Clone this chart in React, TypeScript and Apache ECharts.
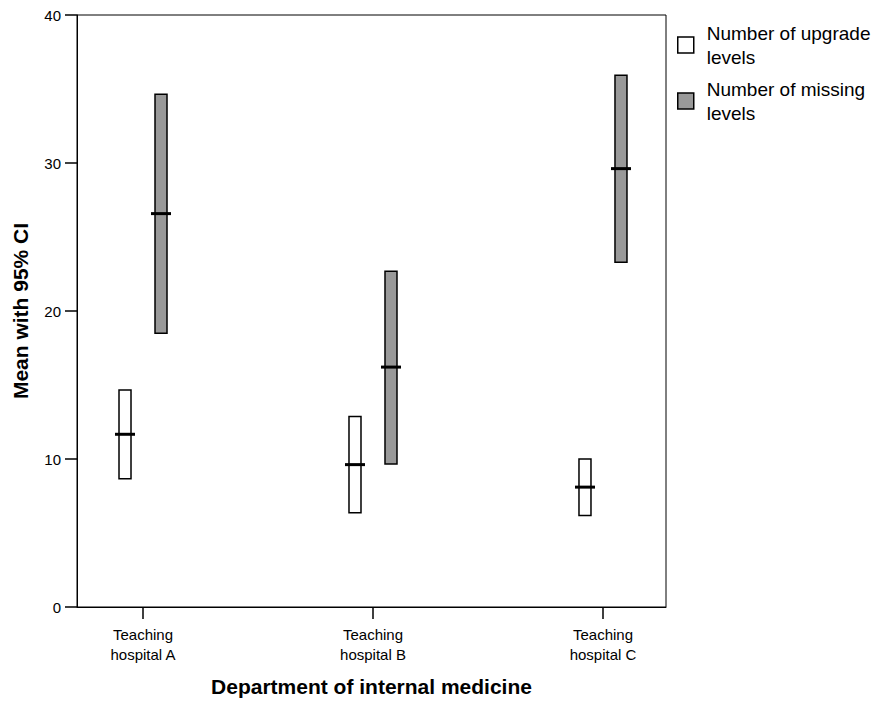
import React, { useEffect, useRef } from "react";
import * as echarts from "echarts";

const categories = ["Teaching\nhospital A", "Teaching\nhospital B", "Teaching\nhospital C"];
const categoryPos = [1, 2, 3];

const upgradeLow = [8.66, 6.37, 6.19];
const upgradeMean = [11.67, 9.62, 8.1];
const upgradeHigh = [14.66, 12.88, 10.0];

const missingLow = [18.5, 9.67, 23.3];
const missingMean = [26.58, 16.21, 29.62];
const missingHigh = [34.65, 22.68, 35.93];

const seriesNames = ["Number of upgrade\nlevels", "Number of missing\nlevels"];
const FONT = "Liberation Sans, Arial, Helvetica, sans-serif";

function makeRender(offset: number, fill: string) {
  return (params: any, api: any) => {
    const x = api.value(0);
    const low = api.value(1);
    const mean = api.value(2);
    const high = api.value(3);
    const pTop = api.coord([x, high]);
    const pBot = api.coord([x, low]);
    const pMean = api.coord([x, mean]);
    const cx = pTop[0] + offset;
    return {
      type: "group",
      children: [
        {
          type: "rect",
          shape: { x: cx - 6, y: pTop[1], width: 12, height: pBot[1] - pTop[1] },
          style: { fill, stroke: "#000", lineWidth: 1.5 },
        },
        {
          type: "line",
          shape: { x1: cx - 10, y1: pMean[1], x2: cx + 10, y2: pMean[1] },
          style: { stroke: "#000", lineWidth: 3 },
        },
      ],
    };
  };
}

export default function App() {
  const ref = useRef<HTMLDivElement>(null);
  useEffect(() => {
    if (!ref.current) return;
    const chart = echarts.init(ref.current, null, { renderer: "svg" });
    const upData = categoryPos.map((c, i) => [c, upgradeLow[i], upgradeMean[i], upgradeHigh[i]]);
    const misData = categoryPos.map((c, i) => [c, missingLow[i], missingMean[i], missingHigh[i]]);
    chart.setOption({
      animation: false,
      backgroundColor: "#fff",
      textStyle: { fontFamily: FONT },
      grid: {
        left: 77,
        top: 15,
        right: 212,
        bottom: 93.5,
        show: true,
        borderColor: "#000",
        borderWidth: 1,
        backgroundColor: "transparent",
      },
      legend: {
        orient: "vertical",
        left: 677,
        top: 21,
        padding: 0,
        itemWidth: 16,
        itemHeight: 16,
        itemGap: 8,
        textStyle: { fontSize: 19, lineHeight: 24, color: "#000", fontFamily: FONT, padding: [0, 0, 0, 8] },
        data: [
          { name: seriesNames[0], icon: "rect", itemStyle: { color: "#fff", borderColor: "#000", borderWidth: 1.5 } },
          { name: seriesNames[1], icon: "rect", itemStyle: { color: "#999999", borderColor: "#000", borderWidth: 1.5 } },
        ],
      },
      xAxis: {
        type: "value",
        min: 0.713,
        max: 3.274,
        splitLine: { show: false },
        axisLine: { show: true, onZero: false, lineStyle: { color: "#000", width: 1 } },
        axisTick: { show: true, customValues: categoryPos, length: 12, inside: false, lineStyle: { color: "#000", width: 1.5 } },
        axisLabel: {
          customValues: categoryPos,
          formatter: (v: number) => categories[Math.round(v) - 1] ?? "",
          fontSize: 15,
          lineHeight: 20,
          margin: 17,
          color: "#000",
          fontFamily: FONT,
        },
        name: "Department of internal medicine",
        nameLocation: "middle",
        nameGap: 69,
        nameTextStyle: { fontSize: 21, fontWeight: "bold", color: "#000", fontFamily: FONT },
      },
      yAxis: {
        type: "value",
        min: 0,
        max: 40,
        interval: 10,
        splitLine: { show: false },
        axisLine: { show: true, lineStyle: { color: "#000", width: 1 } },
        axisTick: { show: true, length: 12, lineStyle: { color: "#000", width: 1.5 } },
        axisLabel: { fontSize: 15, margin: 16, color: "#000", fontFamily: FONT },
        name: "Mean with 95% CI",
        nameLocation: "middle",
        nameGap: 46,
        nameRotate: 90,
        nameTextStyle: { fontSize: 21, fontWeight: "bold", color: "#000", fontFamily: FONT },
      },
      series: [
        {
          name: seriesNames[0],
          type: "custom",
          renderItem: makeRender(-18, "#ffffff"),
          itemStyle: { color: "#fff", borderColor: "#000" },
          encode: { x: 0, y: [1, 2, 3] },
          data: upData,
        },
        {
          name: seriesNames[1],
          type: "custom",
          renderItem: makeRender(18, "#999999"),
          itemStyle: { color: "#999999", borderColor: "#000" },
          encode: { x: 0, y: [1, 2, 3] },
          data: misData,
        },
      ],
    });
    return () => chart.dispose();
  }, []);
  return (
    <div
      ref={ref}
      style={{ position: "absolute", left: 0, top: 0, width: 878, height: 702 }}
    />
  );
}
